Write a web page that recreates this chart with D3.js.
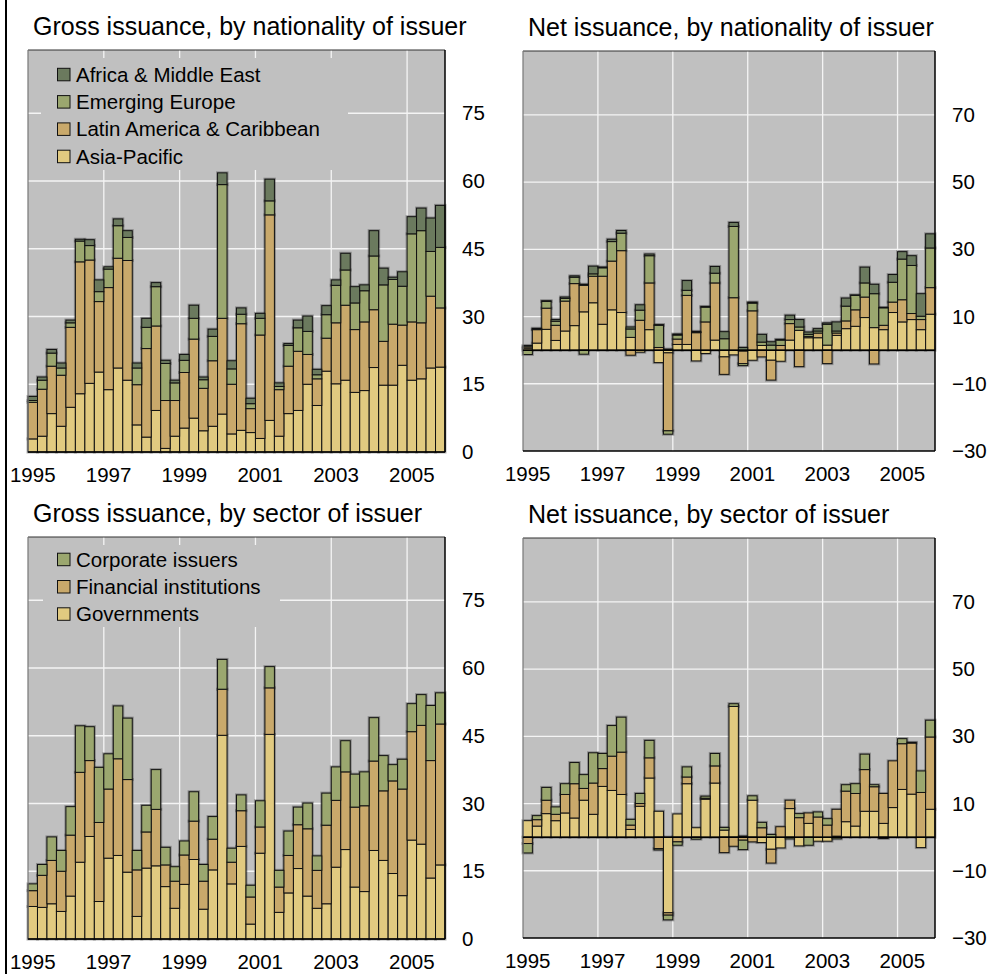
<!DOCTYPE html>
<html>
<head>
<meta charset="utf-8">
<script src="https://cdn.jsdelivr.net/npm/d3@7/dist/d3.min.js"></script>
<style>
body { margin: 0; background: #fff; }
svg { font-family: "Liberation Sans", Arial, sans-serif; }
</style>
</head>
<body>
<svg id="chart" width="989" height="974"></svg>
<script>
// quarterly data, 1995 Q1 .. 2005 Q4
var years = [1995, 1996, 1997, 1998, 1999, 2000, 2001, 2002, 2003, 2004, 2005];
var yearLabels = ["1995", "1997", "1999", "2001", "2003", "2005"];

var grossAsia   = [2.9,3.5,8.5,5.7,9.9,12.9,15.2,17.7,13.8,18.6,15.9,6.0,3.3,9.2,0.8,3.5,5.3,7.5,4.7,5.7,8.4,4.0,4.8,4.3,3.0,7.0,3.5,8.5,9.2,15.0,10.3,17.9,15.1,15.9,13.2,13.6,18.7,14.8,14.8,19.2,15.9,16.2,18.6,18.8];
var grossLatam  = [8.1,10.4,10.5,11.3,17.7,29.2,27.3,15.6,22.6,24.3,26.5,8.9,19.6,18.7,10.6,7.9,12.3,17.5,9.4,14.5,21.2,11.0,23.6,5.3,22.9,45.5,10.3,10.5,13.1,6.6,5.9,7.3,13.5,16.6,13.9,15.2,12.8,9.7,13.5,8.9,12.9,12.4,15.9,13.1];
var grossEurope = [0.4,2.0,2.9,1.6,1.0,4.6,3.2,2.2,4.1,7.2,5.1,3.7,4.7,8.7,8.2,3.9,2.7,4.6,1.9,5.4,29.6,3.4,2.1,1.1,3.7,3.1,0.7,4.6,5.2,5.1,0.9,5.2,8.3,7.8,5.9,6.9,11.9,12.5,9.9,8.6,19.5,20.4,9.9,13.4];
var grossAfrica = [0.9,0.7,0.8,1.1,0.6,0.4,1.3,2.6,0.5,1.5,1.5,1.1,2.0,0.9,0.7,0.6,1.3,2.9,0.6,1.6,2.6,1.8,1.4,1.2,1.1,4.8,0.8,0.4,1.7,3.4,1.2,2.0,1.2,3.7,3.6,1.3,5.6,3.7,0.5,3.2,3.8,5.0,7.4,9.3];

var netAsia   = [0.6,2.1,6.2,2.9,5.7,7.3,11.4,14.1,7.7,12.0,11.2,3.8,-0.6,6.1,-3.7,-0.8,1.7,1.7,-3.2,-1.0,3.0,-2.0,-1.4,-0.3,-3.0,1.4,-3.0,-3.3,3.0,5.9,3.7,3.7,1.5,4.4,6.4,7.1,9.7,6.7,6.1,11.2,8.4,9.1,6.1,10.7];
var netLatam  = [0.4,4.0,6.3,4.5,8.9,12.5,7.9,7.9,14.3,14.5,18.4,-1.5,8.9,13.9,0.8,-23.2,1.6,14.6,5.2,8.4,17.0,-5.2,15.6,-3.7,11.7,-2.0,-5.9,1.4,4.9,-4.9,0.4,1.4,-4.0,0.7,2.3,4.9,6.1,-4.1,1.3,3.1,6.6,1.8,3.0,7.9];
var netEurope = [-1.3,0.1,2.0,1.2,0.8,1.9,-1.2,0.7,2.5,5.8,5.2,2.5,3.0,8.1,6.6,-1.0,1.2,1.5,0.1,4.4,2.9,3.4,21.2,-0.6,2.3,1.0,1.5,1.6,1.2,1.0,0.6,0.6,6.2,0.6,4.4,4.3,4.2,10.1,5.2,5.9,12.1,14.3,1.0,11.8];
var netAfrica = [0.4,0.3,0.2,0.5,0.4,0.4,0.3,2.3,0.2,0.7,0.8,0.6,1.6,0.5,0.2,0.3,0.3,2.9,0.3,0.2,2.0,2.1,1.2,0.8,0.3,2.3,1.0,0.2,1.3,2.2,0.7,0.7,0.4,2.7,2.4,0.1,4.7,2.8,0.1,2.3,2.2,2.9,6.7,4.2];

var grossGov  = [7.2,7.0,7.8,6.1,9.5,17.0,22.7,8.3,17.9,18.5,14.8,5.0,15.7,16.2,11.6,6.8,12.1,17.6,6.6,15.3,45.1,12.2,20.5,3.3,19.0,45.3,5.9,10.2,15.6,9.5,6.8,7.8,15.9,19.8,11.5,10.5,19.6,17.4,14.5,9.6,21.9,21.0,13.5,16.4];
var grossFin  = [3.5,7.1,9.6,8.9,13.5,19.9,16.8,17.5,15.3,21.4,20.5,10.3,8.0,12.5,4.8,6.0,6.5,8.5,6.2,6.8,10.2,4.8,7.9,6.0,5.8,10.3,5.6,8.3,9.7,14.9,8.4,17.4,14.8,17.2,17.7,19.0,19.8,15.4,20.5,23.6,24.0,26.3,26.0,31.2];
var grossCorp = [1.5,2.4,5.2,4.6,6.3,10.3,7.5,12.2,7.8,11.7,13.6,4.3,5.9,8.8,3.9,3.2,3.1,6.5,3.7,5.0,6.6,3.1,3.5,2.6,5.8,4.7,3.7,5.4,3.9,5.7,3.2,7.1,7.4,6.9,7.3,7.5,9.6,7.8,3.6,6.6,6.2,6.8,12.2,6.9];

var netGov  = [4.9,3.3,7.0,4.9,7.2,5.7,11.0,6.8,15.1,13.9,12.7,2.3,9.2,17.6,7.7,-22.5,6.9,15.9,2.8,11.3,16.1,2.1,38.9,0.3,11.0,-1.6,-3.6,-3.2,8.5,-2.6,4.1,-1.2,-1.2,0.3,4.6,3.3,7.7,7.7,4.1,8.8,14.2,12.8,-3.1,8.3];
var netFin  = [-1.9,1.9,4.0,1.9,5.5,10.2,3.5,9.3,5.3,10.2,12.6,1.3,0.8,6.0,-3.4,-0.7,-1.4,2.0,0.0,0.3,5.1,-4.6,-2.7,-0.9,-1.4,2.8,-4.1,3.1,2.5,5.8,3.1,6.0,3.6,8.0,9.1,9.7,12.4,7.3,8.9,13.9,13.6,15.2,13.3,21.5];
var netCorp = [-2.8,1.2,3.8,2.2,3.2,6.3,4.1,9.0,4.5,9.1,10.4,1.7,3.0,5.2,-0.4,-1.4,-1.0,3.0,-0.6,0.6,3.7,0.8,0.8,-2.8,1.3,1.6,0.8,0.0,-0.5,1.2,-2.4,1.5,1.9,-0.5,1.9,2.9,4.6,0.6,-0.4,0.0,1.5,0.2,6.4,5.0];

var grossTicks = [0, 15, 30, 45, 60, 75];
var netTicks = [-30, -10, 10, 30, 50, 70];

var cDark = "#6b7a5e", cGreen = "#9ba76f", cTan = "#c9a96b", cYellow = "#e1ca80";

var quarters = [];
years.forEach(function(y) {
    for (var q = 1; q <= 4; q++) quarters.push(y + "Q" + q);
});

var svg = d3.select("#chart");

// frame line on the left edge
svg.append("line").attr("x1", 6).attr("x2", 6).attr("y1", 0).attr("y2", 974)
    .attr("stroke", "#000").attr("stroke-width", 2);

function buildRows(series) {
    return quarters.map(function(q, i) {
        var row = {q: q};
        series.forEach(function(s) { row[s.key] = s.values[i]; });
        return row;
    });
}

function drawPanel(p) {
    var g = svg.append("g");
    var x = d3.scaleBand().domain(quarters).range([p.left, p.right]).padding(0);
    var y = d3.scaleLinear().domain(p.domain).range([p.bottom, p.top]);

    g.append("rect").attr("x", p.left).attr("y", p.top)
        .attr("width", p.right - p.left).attr("height", p.bottom - p.top)
        .attr("fill", "#c0c0c0");

    // grid
    g.selectAll(".hgrid").data(p.ticks.filter(function(t) { return t !== p.domain[0]; }))
        .enter().append("line")
        .attr("x1", p.left).attr("x2", p.right)
        .attr("y1", function(d) { return y(d); }).attr("y2", function(d) { return y(d); })
        .attr("stroke", "#f4f4f4").attr("stroke-width", 1.3);
    g.selectAll(".vgrid").data(quarters.filter(function(q, i) { return i > 0 && i % 8 === 0; }))
        .enter().append("line")
        .attr("x1", function(d) { return x(d); }).attr("x2", function(d) { return x(d); })
        .attr("y1", p.top).attr("y2", p.bottom)
        .attr("stroke", "#f4f4f4").attr("stroke-width", 1.3);

    // legend box hides the grid
    if (p.legendBox) {
        g.append("rect").attr("x", p.legendBox[0]).attr("y", p.legendBox[1])
            .attr("width", p.legendBox[2]).attr("height", p.legendBox[3])
            .attr("fill", "#c0c0c0");
    }

    var keys = p.series.map(function(s) { return s.key; });
    var stacked = d3.stack().keys(keys).offset(d3.stackOffsetDiverging)(buildRows(p.series));

    var segs = [];
    stacked.forEach(function(layer, li) {
        layer.forEach(function(d) {
            if (d[1] - d[0] === 0) return;
            segs.push({q: d.data.q, y0: d[0], y1: d[1], color: p.series[li].color});
        });
    });

    // soft shadow round the bars
    g.selectAll(".halo").data(segs).enter().append("rect")
        .attr("x", function(d) { return x(d.q); })
        .attr("y", function(d) { return y(d.y1); })
        .attr("width", x.bandwidth())
        .attr("height", function(d) { return y(d.y0) - y(d.y1); })
        .attr("fill", "none").attr("stroke", "rgba(40,40,40,0.35)").attr("stroke-width", 3);
    g.selectAll(".seg").data(segs).enter().append("rect")
        .attr("x", function(d) { return x(d.q); })
        .attr("y", function(d) { return y(d.y1); })
        .attr("width", x.bandwidth())
        .attr("height", function(d) { return y(d.y0) - y(d.y1); })
        .attr("fill", function(d) { return d.color; })
        .attr("stroke", "#111").attr("stroke-width", 1);

    // frame
    g.append("line").attr("x1", p.left).attr("x2", p.right).attr("y1", p.top).attr("y2", p.top)
        .attr("stroke", "#333").attr("stroke-width", 1.2);
    g.append("line").attr("x1", p.left).attr("x2", p.left).attr("y1", p.top).attr("y2", p.bottom)
        .attr("stroke", "#777").attr("stroke-width", 1.2);
    g.append("line").attr("x1", p.right).attr("x2", p.right).attr("y1", p.top).attr("y2", p.bottom)
        .attr("stroke", "#000").attr("stroke-width", 1.5);
    g.append("line").attr("x1", p.left).attr("x2", p.right).attr("y1", p.bottom).attr("y2", p.bottom)
        .attr("stroke", "#000").attr("stroke-width", 1.5);
    if (p.domain[0] < 0) {
        g.append("line").attr("x1", p.left).attr("x2", p.right).attr("y1", y(0)).attr("y2", y(0))
            .attr("stroke", "#000").attr("stroke-width", 1.5);
    }

    // right axis
    var yAxis = d3.axisRight(y).tickValues(p.ticks).tickSize(0).tickPadding(17)
        .tickFormat(function(d) { return d < 0 ? "\u2212" + Math.abs(d) : d; });
    var ya = g.append("g").attr("transform", "translate(" + p.right + ",0)").call(yAxis);
    ya.select(".domain").remove();
    ya.selectAll("text").attr("font-size", 20.5).attr("fill", "#000")
        .attr("font-family", "'Liberation Sans', Arial, sans-serif");

    // bottom labels on the first quarter of odd years
    var xAxis = d3.axisBottom(x).tickValues(quarters.filter(function(q, i) { return i % 8 === 0; }))
        .tickSize(0).tickPadding(15.5).tickFormat(function(d) { return d.slice(0, 4); });
    var xa = g.append("g").attr("transform", "translate(0," + p.bottom + ")").call(xAxis);
    xa.select(".domain").remove();
    xa.selectAll("text").attr("font-size", 20.5).attr("fill", "#000")
        .attr("font-family", "'Liberation Sans', Arial, sans-serif");

    g.append("text").attr("x", p.left + 5).attr("y", p.top - 15)
        .attr("font-size", 25).attr("fill", "#000").text(p.title);

    if (p.legend) {
        var lg = g.selectAll(".lg").data(p.legend).enter().append("g")
            .attr("transform", function(d, i) { return "translate(" + (p.left + 29.5) + "," + (p.legendTop + i * 27.3) + ")"; });
        lg.append("rect").attr("x", 0).attr("y", -6.2).attr("width", 12.5).attr("height", 12.5)
            .attr("fill", function(d) { return d.color; }).attr("stroke", "#111").attr("stroke-width", 1);
        lg.append("text").attr("x", 18.5).attr("y", 0).attr("dy", "0.35em")
            .attr("font-size", 20.5).attr("fill", "#000")
            .text(function(d) { return d.name; });
    }
}

drawPanel({
    title: "Gross issuance, by nationality of issuer",
    left: 28, right: 445, top: 50, bottom: 452, domain: [0, 89], ticks: grossTicks,
    series: [
        {key: "asia", values: grossAsia, color: cYellow},
        {key: "latam", values: grossLatam, color: cTan},
        {key: "europe", values: grossEurope, color: cGreen},
        {key: "africa", values: grossAfrica, color: cDark}
    ],
    legendBox: [41, 58, 307, 112], legendTop: 74.5,
    legend: [
        {name: "Africa & Middle East", color: cDark},
        {name: "Emerging Europe", color: cGreen},
        {name: "Latin America & Caribbean", color: cTan},
        {name: "Asia-Pacific", color: cYellow}
    ]
});

drawPanel({
    title: "Net issuance, by nationality of issuer",
    left: 523, right: 935, top: 51, bottom: 451, domain: [-30, 89], ticks: netTicks,
    series: [
        {key: "asia", values: netAsia, color: cYellow},
        {key: "latam", values: netLatam, color: cTan},
        {key: "europe", values: netEurope, color: cGreen},
        {key: "africa", values: netAfrica, color: cDark}
    ]
});

drawPanel({
    title: "Gross issuance, by sector of issuer",
    left: 28, right: 445, top: 537, bottom: 939, domain: [0, 89], ticks: grossTicks,
    series: [
        {key: "gov", values: grossGov, color: cYellow},
        {key: "fin", values: grossFin, color: cTan},
        {key: "corp", values: grossCorp, color: cGreen}
    ],
    legendBox: [43, 545, 237, 82], legendTop: 559.4,
    legend: [
        {name: "Corporate issuers", color: cGreen},
        {name: "Financial institutions", color: cTan},
        {name: "Governments", color: cYellow}
    ]
});

drawPanel({
    title: "Net issuance, by sector of issuer",
    left: 523, right: 935, top: 538, bottom: 938, domain: [-30, 89], ticks: netTicks,
    series: [
        {key: "gov", values: netGov, color: cYellow},
        {key: "fin", values: netFin, color: cTan},
        {key: "corp", values: netCorp, color: cGreen}
    ]
});
</script>
</body>
</html>
